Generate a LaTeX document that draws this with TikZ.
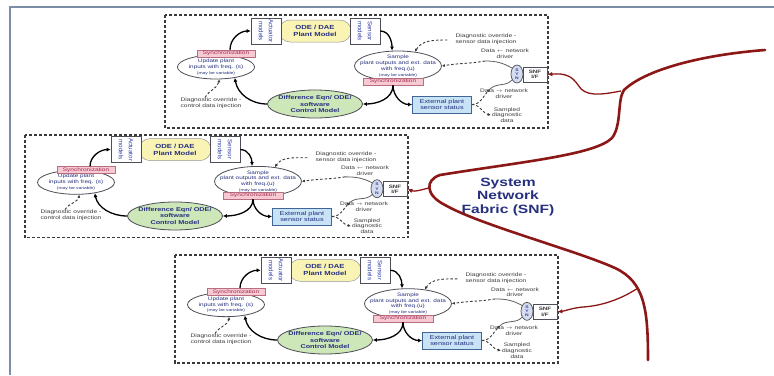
\documentclass[tikz,border=0pt]{standalone}
\usepackage{fontspec}
\setmainfont[FakeStretch=1.3]{Liberation Sans}
\newfontfamily\uprightfont{Liberation Sans}
\usetikzlibrary{arrows.meta,shapes.geometric,shapes.misc}

\definecolor{navy}{HTML}{26307F}
\definecolor{inkblue}{HTML}{3442A8}
\definecolor{labelgray}{HTML}{3A3A3A}
\definecolor{edgegray}{HTML}{4E4E58}
\definecolor{synctext}{HTML}{A62A52}
\definecolor{syncfill}{HTML}{F6C9D3}
\definecolor{syncdraw}{HTML}{B86E80}
\definecolor{plantfill}{HTML}{FAF4B4}
\definecolor{ctrlfill}{HTML}{CDE7B9}
\definecolor{extfill}{HTML}{C8E3F6}
\definecolor{extdraw}{HTML}{3F6696}
\definecolor{syefill}{HTML}{D4DCEE}
\definecolor{snfred}{HTML}{8C1717}
\definecolor{framegray}{HTML}{7D8DA6}

\tikzset{
  blockframe/.style={draw=labelgray, line width=1.2pt, dash pattern=on 3pt off 2pt},
  plantmodel/.style={rounded rectangle, draw=edgegray!60, fill=plantfill, line width=0.5pt,
    minimum width=72pt, minimum height=22pt, inner sep=0pt,
    font=\fontsize{5.9}{7}\selectfont\bfseries, text=navy, align=center},
  modelbox/.style={draw=edgegray, fill=white, line width=0.6pt,
    minimum width=30pt, minimum height=26pt, inner sep=0pt},
  modeltext/.style={rotate=-90, font=\uprightfont\fontsize{6.2}{10}\selectfont, text=inkblue,
    align=center, inner sep=0pt},
  stateell/.style={ellipse, draw=edgegray, fill=white, line width=0.8pt,
    inner xsep=-9pt, inner ysep=-1pt,
    font=\fontsize{4.9}{5.8}\selectfont, text=navy, align=center},
  syncbox/.style={draw=syncdraw, fill=syncfill, line width=0.5pt, minimum width=58pt,
    minimum height=7pt, inner sep=0pt, font=\fontsize{5}{5}\selectfont, text=synctext},
  ctrlell/.style={ellipse, draw=edgegray, fill=ctrlfill, line width=0.8pt,
    minimum width=95pt, minimum height=28pt, inner xsep=-8pt, inner ysep=-1pt,
    font=\fontsize{5.6}{6.3}\selectfont\bfseries, text=navy, align=center},
  extbox/.style={draw=extdraw, fill=extfill, line width=0.8pt, minimum width=59pt,
    minimum height=17pt, inner sep=0pt, font=\fontsize{5.6}{6.3}\selectfont,
    text=navy, align=center},
  note/.style={font=\fontsize{5.1}{5.8}\selectfont, text=labelgray, align=center, inner sep=0pt},
  syncell/.style={ellipse, draw=edgegray, fill=syefill, line width=0.7pt, minimum width=12pt,
    minimum height=18pt, inner sep=0pt, font=\fontsize{3.8}{4.2}\selectfont\bfseries,
    text=inkblue, align=center},
  snfbox/.style={draw=edgegray, fill=white, line width=0.7pt, minimum width=24pt,
    minimum height=15pt, inner sep=0pt, font=\fontsize{4.8}{5.4}\selectfont\bfseries,
    text=labelgray, align=center},
  flow/.style={draw=black, line width=1.3pt, -{Latex[length=4pt,width=4pt]}},
  dflow/.style={draw=labelgray, line width=0.9pt, dash pattern=on 2.5pt off 2pt,
    -{Latex[length=3pt,width=3pt]}},
  link/.style={draw=gray!75!black, line width=0.8pt},
  snfline/.style={draw=snfred, line width=2.6pt, line cap=round},
  snfarrow/.style={draw=snfred, line width=1.3pt, -{Latex[length=5pt,width=4.5pt]}},
}

\newcommand\varnotefont{\fontsize{3.8}{4.4}\selectfont}

% one plant / control / network-interface cell, origin at its top-left corner
\newcommand\plantblock{%
  \draw[blockframe] (0,0) rectangle (383,-113);
  \node[plantmodel] (ode) at (150,-16) {ODE / DAE\\Plant Model};
  \node[modelbox] (act) at (101,-16) {};
  \node[modeltext] at (act) {Actuator\\models};
  \node[modelbox] (sen) at (200,-16) {};
  \node[modeltext] at (sen) {Sensor\\models};
  \node[stateell, minimum width=77pt, minimum height=24pt] (upd) at (51,-52)
    {Update plant\\inputs with freq. (s)\\{\varnotefont(may be variable)}};
  \node[syncbox] (s1) at (61,-38.5) {Synchronization};
  \node[ctrlell] (ctrl) at (150,-89) {Difference Eqn/ ODE/\\software\\Control Model};
  \node[stateell, minimum width=87pt, minimum height=30pt] (smp) at (233,-51)
    {Sample\\plant outputs and ext. data\\with freq.(u)\\{\varnotefont(may be variable)}};
  \node[syncbox, minimum width=60pt] (s2) at (228,-66.5) {Synchronization};
  \node[extbox] (ext) at (277,-89.5) {External plant\\sensor status};
  \node[note] (dl) at (46,-88) {Diagnostic override -\\control data injection};
  \node[note] (dr) at (321,-24) {Diagnostic override -\\sensor data injection};
  \node[note] (din) at (340,-39) {Data $\leftarrow$ network\\driver};
  \node[note] (dout) at (339,-79) {Data $\rightarrow$ network\\driver};
  \node[note] (samp) at (342,-100) {Sampled\\diagnostic\\data};
  \node[syncell] (sye) at (352,-59) {S\\Y\\N};
  \node[snfbox] (snf) at (370,-59.5) {SNF\\I/F};
  \coordinate (d1) at (320,-46);
  \coordinate (d2) at (325,-74);
  % control loop
  \draw[flow] ([xshift=4pt]s1.north) to[out=90,in=180] (act.west);
  \draw[flow] (sen.east) to[out=0,in=90] ([xshift=-6pt]smp.north);
  \draw[flow] (s2.south) to[out=-90,in=0] (ctrl.east);
  \draw[flow] (s2.south) to[out=-90,in=180] (ext.west);
  \draw[flow] (ctrl.west) to[out=180,in=-80] (upd.-30);
  % diagnostics and network driver side
  \draw[dflow] ([xshift=-6pt]dl.north) to[out=60,in=-100] (upd.-75);
  \draw[dflow] ([xshift=-8pt,yshift=-1pt]dr.west) to[out=180,in=60] (smp.40);
  \draw[dflow] (d1) to[out=190,in=10] (smp.east);
  \draw[link] (d1) to[out=0,in=150] (sye.130);
  \draw[dflow] (ext.east) to[out=0,in=-135] (d2);
  \draw[link] (d2) to[out=45,in=-130] (sye.-130);
  \draw[dflow] (ext.east) to[out=0,in=170] ([xshift=-1pt]samp.west);
}

\begin{document}
\begin{tikzpicture}[x=1pt,y=1pt]
  \useasboundingbox (0,0) rectangle (774,-375);
  \fill[white] (0,0) rectangle (774,-375);
  % page frame
  \draw[framegray, line width=1.5pt] (10,-375) -- (10,-7) -- (774,-7);

  \begin{scope}[shift={(165,-15)}, name prefix=a-]
    \plantblock
  \end{scope}
  \begin{scope}[shift={(25,-135)}, yscale=0.91, name prefix=b-]
    \plantblock
  \end{scope}
  \begin{scope}[shift={(175,-255)}, yscale=0.955, name prefix=c-]
    \plantblock
  \end{scope}

  % system network fabric
  \draw[snfline] (765,-50) .. controls (700,-55) and (645,-70) .. (624,-90)
    .. controls (617,-100) and (622,-125) .. (612,-138)
    .. controls (595,-155) and (520,-162) .. (440,-175)
    .. controls (425,-180) and (425,-195) .. (445,-205)
    .. controls (480,-225) and (575,-250) .. (615,-268)
    .. controls (645,-282) and (648,-310) .. (648,-360);
  \draw[snfarrow] (621,-91) .. controls (600,-95) and (585,-97) .. (578,-85)
    .. controls (572,-76) and (565,-73) .. (a-snf.east);
  \draw[snfarrow] (429,-188) .. controls (420,-190) and (415,-192) .. (b-snf.east);
  \draw[snfarrow] (638,-288) .. controls (620,-300) and (600,-306) .. (583,-307)
    .. controls (572,-308) and (565,-311) .. (c-snf.east);
  \node[font=\fontsize{12}{13.3}\selectfont\bfseries, text=navy, align=center]
    (snflabel) at (508,-197) {System\\Network\\Fabric (SNF)};
\end{tikzpicture}
\end{document}
